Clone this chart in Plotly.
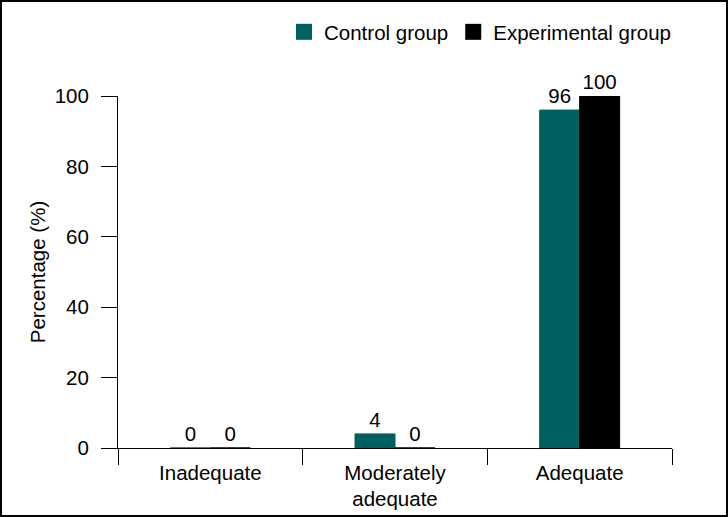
import plotly.graph_objects as go

categories = ["Inadequate", "Moderately<br>adequate", "Adequate"]
control = [0, 4, 96]
experimental = [0, 0, 100]
series_names = ["Control group", "Experimental group"]
colors = ["#005F5F", "#000000"]

W, H = 728, 517
L, R, T, B = 118, 56, 96, 69
pw, ph = W - L - R, H - T - B

fig = go.Figure()
for name, vals, col in zip(series_names, [control, experimental], colors):
    fig.add_trace(go.Bar(
        x=categories, y=vals, name=name, showlegend=False, legendgroup=name,
        marker=dict(color=col, line=dict(color=col, width=1)),
        text=[str(v) for v in vals], textposition="outside",
        textfont=dict(size=20.5, color="#000000"),
        cliponaxis=False,
    ))
# legend entries with larger square swatches
for name, col in zip(series_names, colors):
    fig.add_trace(go.Scatter(
        x=[None], y=[None], mode="markers", name=name, legendgroup=name,
        marker=dict(symbol="square", size=18, color=col),
    ))

font = dict(family="Liberation Sans, Arial, sans-serif", size=20.5, color="#000000")
fig.update_layout(
    width=W, height=H,
    margin=dict(l=L, r=R, t=T, b=B, autoexpand=False),
    paper_bgcolor="white", plot_bgcolor="white",
    font=font,
    barmode="group", bargap=0.567, bargroupgap=0,
    legend=dict(orientation="h", x=(284 - L) / pw, xanchor="left",
                y=(H - B - 32) / ph, yanchor="middle",
                font=font, itemwidth=30, traceorder="normal"),
    xaxis=dict(showline=True, linecolor="#000000", linewidth=1,
               ticks="outside", tickson="boundaries", ticklen=16,
               tickcolor="#000000", showgrid=False, ticklabelstandoff=6),
    yaxis=dict(range=[0, 100], tickvals=[0, 20, 40, 60, 80, 100],
               showline=True, linecolor="#000000", linewidth=1,
               ticks="outside", ticklen=16, tickcolor="#000000",
               showgrid=False, zeroline=False, ticklabelstandoff=8,
               title=dict(text="Percentage (%)", font=font, standoff=3)),
    shapes=[dict(type="rect", xref="paper", yref="paper",
                 x0=(1 - L) / pw, x1=(W - 1 - L) / pw,
                 y0=(H - B - (H - 1)) / ph, y1=(H - B - 1) / ph,
                 line=dict(color="#000000", width=2))],
)

fig.write_html("out.html", config={"displayModeBar": False},
               post_script="document.body.style.margin='0';document.body.style.overflow='hidden';")
